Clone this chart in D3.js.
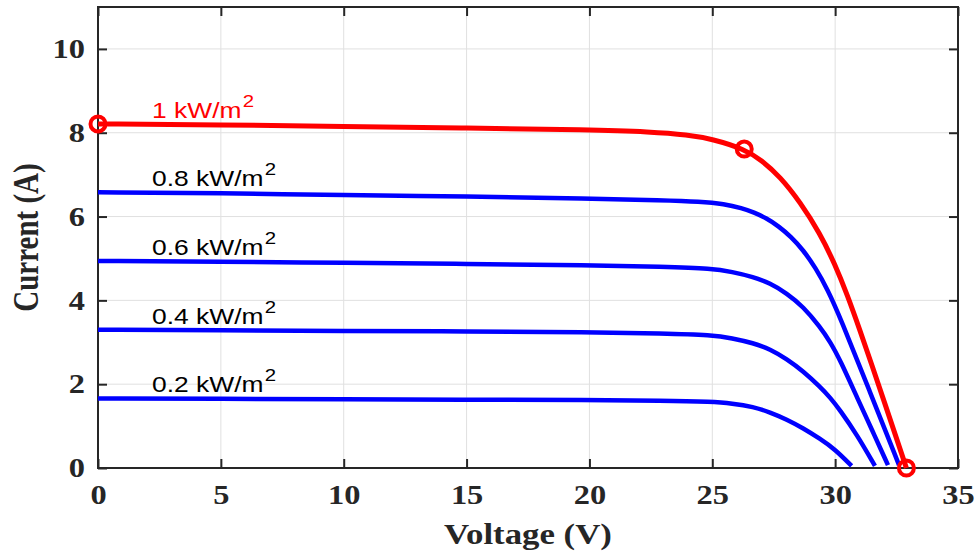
<!DOCTYPE html>
<html>
<head>
<meta charset="utf-8">
<script src="https://cdn.jsdelivr.net/npm/d3@7"></script>
<style>
  body { margin: 0; background: #fff; }
</style>
</head>
<body>
<div id="chart"></div>
<script>
// DATA: [voltage (V), current (A)]
var irr10 = [[0,8.21],[5,8.19],[10,8.15],[15,8.11],[20,8.07],[22.5,8.02],[24,7.95],[25,7.85],[26.3,7.61],[27,7.35],[27.76,6.95],[28.57,6.35],[29.38,5.6],[30,4.85],[30.5,4.12],[31,3.3],[31.5,2.45],[32,1.58],[32.5,0.7],[32.9,0]];
var irr08 = [[0,6.58],[5,6.56],[10,6.51],[15,6.48],[20,6.43],[23,6.39],[24.5,6.36],[25.5,6.3],[26.2,6.2],[26.7,6.1],[27.2,5.96],[27.7,5.77],[28.2,5.52],[28.7,5.2],[29.2,4.78],[29.7,4.25],[30.2,3.6],[31.4,1.84],[32.6,0.07]];
var irr06 = [[0,4.94],[5,4.92],[10,4.9],[15,4.87],[20,4.84],[23,4.8],[25,4.76],[25.8,4.68],[26.67,4.56],[27.35,4.41],[28.03,4.17],[28.7,3.85],[29.38,3.37],[29.8,3.01],[30.2,2.58],[30.94,1.62],[31.5,0.91],[32.15,0.07]];
var irr04 = [[0,3.3],[5,3.29],[10,3.27],[15,3.26],[20,3.24],[23,3.21],[25,3.17],[25.8,3.1],[26.67,2.98],[27.35,2.84],[28.03,2.6],[28.7,2.31],[29.38,1.94],[29.8,1.68],[30.2,1.38],[30.88,0.8],[31.62,0.05]];
var irr02 = [[0,1.66],[5,1.65],[10,1.64],[15,1.63],[20,1.62],[23,1.61],[25,1.58],[25.8,1.54],[26.67,1.46],[27.35,1.33],[28.03,1.16],[28.7,0.95],[29.38,0.7],[29.99,0.45],[30.67,0.05]];
var markers = [[0,8.21],[26.3,7.61],[32.9,0]];
var labels = ["1 kW/m", "0.8 kW/m", "0.6 kW/m", "0.4 kW/m", "0.2 kW/m"];
var xTicks = [0, 5, 10, 15, 20, 25, 30, 35];
var yTicks = [0, 2, 4, 6, 8, 10];

// STYLE
var serif = "'Liberation Serif','Times New Roman',serif";
var sans = "'Liberation Sans',Arial,sans-serif";
var axisColor = "#262626";
var gridColor = "#e0e0e0";
var stretch = "scale(1.2,1)";   // reference is squeezed wider than normal

var W = 979, H = 556;
var m = {left: 98, right: 21, top: 7, bottom: 88};

var svg = d3.select("#chart").append("svg")
  .attr("width", W).attr("height", H);

var x = d3.scaleLinear().domain([0, 35]).range([m.left, W - m.right]);
var y = d3.scaleLinear().domain([0, 11]).range([H - m.bottom, m.top]);

// grid
svg.append("g").selectAll("line").data(xTicks).join("line")
  .attr("x1", d => x(d)).attr("x2", d => x(d))
  .attr("y1", y(0)).attr("y2", y(11))
  .attr("stroke", gridColor).attr("stroke-width", 1);
svg.append("g").selectAll("line").data(yTicks).join("line")
  .attr("x1", x(0)).attr("x2", x(35))
  .attr("y1", d => y(d)).attr("y2", d => y(d))
  .attr("stroke", gridColor).attr("stroke-width", 1);

// axes, ticks pointing inward
var gx = svg.append("g").attr("transform", `translate(0,${y(0)})`)
  .call(d3.axisBottom(x).tickValues(xTicks).tickSize(-9).tickPadding(17));
var gy = svg.append("g").attr("transform", `translate(${x(0)},0)`)
  .call(d3.axisLeft(y).tickValues(yTicks).tickSize(-9).tickPadding(13));
svg.append("g").attr("transform", `translate(0,${y(11)})`)
  .call(d3.axisTop(x).tickValues(xTicks).tickSize(-9).tickFormat(""));
svg.append("g").attr("transform", `translate(${x(35)},0)`)
  .call(d3.axisRight(y).tickValues(yTicks).tickSize(-9).tickFormat(""));

svg.selectAll(".domain").remove();
svg.selectAll(".tick line").attr("stroke", axisColor).attr("stroke-width", 2);
svg.selectAll(".tick text")
  .attr("font-family", serif).attr("font-weight", "bold")
  .attr("font-size", 27).attr("fill", axisColor)
  .attr("transform", stretch);
gy.selectAll(".tick text").attr("x", -13 / 1.2);

svg.append("rect")
  .attr("x", x(0)).attr("y", y(11))
  .attr("width", x(35) - x(0)).attr("height", y(0) - y(11))
  .attr("fill", "none").attr("stroke", axisColor).attr("stroke-width", 2);

// curves
var line = d3.line().x(d => x(d[0])).y(d => y(d[1])).curve(d3.curveBasis);
var series = [irr02, irr04, irr06, irr08, irr10];
var colors = ["#0000ff", "#0000ff", "#0000ff", "#0000ff", "#ff0000"];

svg.append("g").selectAll("path").data(series).join("path")
  .attr("d", line)
  .attr("fill", "none")
  .attr("stroke", (d, i) => colors[i])
  .attr("stroke-width", (d, i) => i == 4 ? 5 : 4.5)
  .attr("stroke-linejoin", "round");

svg.append("g").selectAll("circle").data(markers).join("circle")
  .attr("cx", d => x(d[0])).attr("cy", d => y(d[1]))
  .attr("r", 7.5)
  .attr("fill", "none").attr("stroke", "#ff0000").attr("stroke-width", 4);

// curve labels
var labelSeries = [irr10, irr08, irr06, irr04, irr02];
labels.forEach(function(txt, i) {
  var t = svg.append("text")
    .attr("transform", `translate(${x(2.2)},${y(labelSeries[i][0][1]) - 6}) ${stretch}`)
    .attr("font-family", sans).attr("font-size", 22)
    .attr("fill", i == 0 ? "#ff0000" : "#000000");
  t.append("tspan").text(txt);
  t.append("tspan").attr("dx", 1).attr("dy", -11).attr("font-size", 17).text("2");
});

// axis titles
svg.append("text")
  .attr("transform", `translate(${(x(0) + x(35)) / 2},544) ${stretch}`)
  .attr("text-anchor", "middle")
  .attr("font-family", serif).attr("font-weight", "bold")
  .attr("font-size", 29).attr("fill", axisColor)
  .text("Voltage (V)");

svg.append("text")
  .attr("transform", `translate(38,${(y(0) + y(11)) / 2}) ${stretch} rotate(-90)`)
  .attr("text-anchor", "middle")
  .attr("font-family", serif).attr("font-weight", "bold")
  .attr("font-size", 29).attr("fill", axisColor)
  .text("Current (A)");
</script>
</body>
</html>
